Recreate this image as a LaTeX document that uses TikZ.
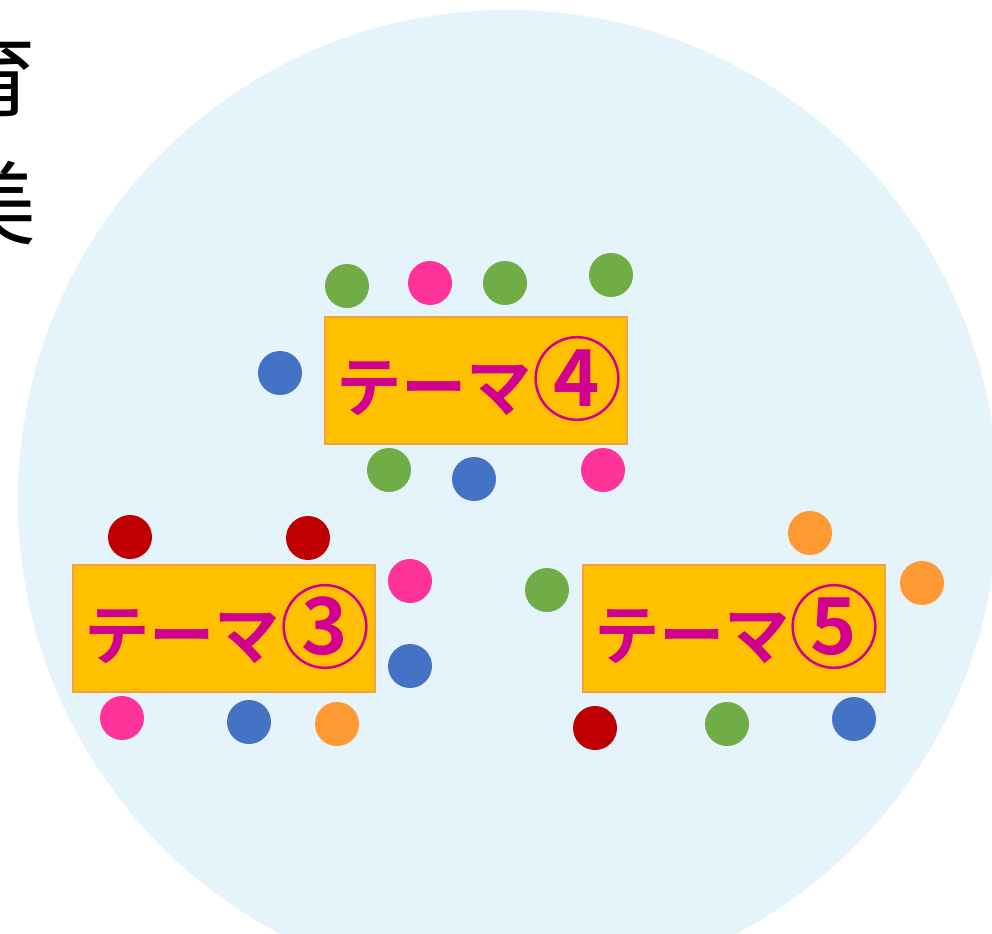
\documentclass[tikz,border=0pt]{standalone}
\usepackage{fontspec}
\newfontfamily\jpb{Noto Sans CJK JP Bold}
\newfontfamily\jp{Noto Sans CJK JP}
\definecolor{bgc}{HTML}{E5F4FB}
\definecolor{boxf}{HTML}{FFC000}
\definecolor{boxd}{HTML}{F8A040}
\definecolor{txt}{HTML}{D1008F}
\definecolor{cg}{HTML}{70AD47}
\definecolor{cp}{HTML}{FF3399}
\definecolor{cb}{HTML}{4472C4}
\definecolor{cr}{HTML}{C00000}
\definecolor{co}{HTML}{FF9933}
\tikzset{
  theme/.style={draw=boxd, line width=1.5pt, fill=boxf, minimum width=226.5pt, minimum height=95.25pt, inner sep=0pt},
  tlabel/.style={text=txt, inner sep=0pt, font=\jpb\fontsize{49}{49}\selectfont},
  tnum/.style={circle, draw=txt, line width=1.9pt, text=txt, minimum size=62pt, inner sep=0pt, font=\jpb\fontsize{59}{59}\selectfont},
  dotg/.style={circle, fill=cg, minimum size=33pt, inner sep=0pt},
  dotp/.style={circle, fill=cp, minimum size=33pt, inner sep=0pt},
  dotb/.style={circle, fill=cb, minimum size=33pt, inner sep=0pt},
  dotr/.style={circle, fill=cr, minimum size=33pt, inner sep=0pt},
  doto/.style={circle, fill=co, minimum size=33pt, inner sep=0pt},
  side/.style={font=\jp\fontsize{68}{68}\selectfont, inner sep=0pt}
}
\begin{document}
\begin{tikzpicture}[x=0.75pt, y=-0.75pt]
\useasboundingbox (0,0) rectangle (992,934);
\clip (0,0) rectangle (992,934);
\fill[white] (0,0) rectangle (992,934);
\fill[bgc] (508,500) circle (490);
\node[side] (s1) at (-9,75) {育};
\node[side] (s2) at (-9,203) {美};
% theme 4
\node[theme] (t4) at (476,380.5) {};
\node[tlabel] (t4l) at (434,389) {テーマ};
\node[tnum] (t4n) at (577,378.5) {4};
% theme 3
\node[theme] (t3) at (224,628.5) {};
\node[tlabel] (t3l) at (182,637) {テーマ};
\node[tnum] (t3n) at (325,626.5) {3};
% theme 5
\node[theme] (t5) at (734,628.5) {};
\node[tlabel] (t5l) at (692,637) {テーマ};
\node[tnum] (t5n) at (834,626.5) {5};
% dots theme 4
\node[dotg] (a1) at (347,286) {};
\node[dotp] (a2) at (430,283) {};
\node[dotg] (a3) at (505,283) {};
\node[dotg] (a4) at (611,275) {};
\node[dotb] (a5) at (280,373) {};
\node[dotg] (a6) at (389,470) {};
\node[dotb] (a7) at (474,479) {};
\node[dotp] (a8) at (603,470) {};
% dots theme 3
\node[dotr] (b1) at (130,537) {};
\node[dotr] (b2) at (308,538) {};
\node[dotp] (b3) at (410,581) {};
\node[dotb] (b4) at (410,666) {};
\node[dotp] (b5) at (122,718) {};
\node[dotb] (b6) at (249,722) {};
\node[doto] (b7) at (337,724) {};
% dots theme 5
\node[doto] (c1) at (810,533) {};
\node[doto] (c2) at (922,583) {};
\node[dotg] (c3) at (547,590) {};
\node[dotr] (c4) at (595,728) {};
\node[dotg] (c5) at (727,724) {};
\node[dotb] (c6) at (854,719) {};
\end{tikzpicture}
\end{document}
